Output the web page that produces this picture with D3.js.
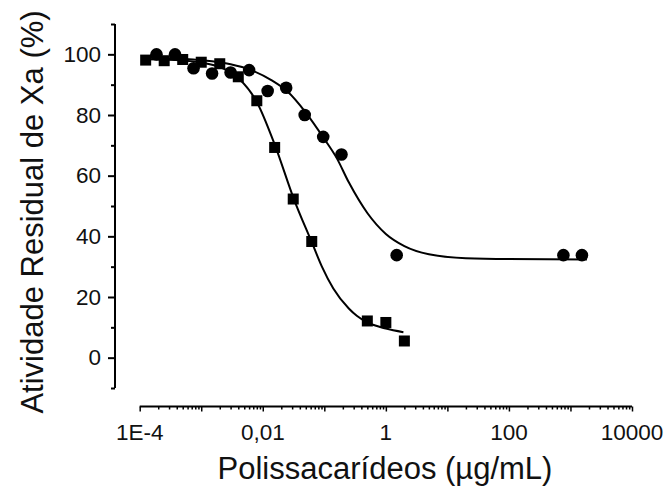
<!DOCTYPE html>
<html>
<head>
<meta charset="utf-8">
<script src="https://cdn.jsdelivr.net/npm/d3@7"></script>
<style>
  html, body { margin: 0; padding: 0; background: #fff; }
  svg { display: block; font-family: "Liberation Sans", Arial, sans-serif; }
</style>
</head>
<body>
<svg id="chart" width="670" height="491"></svg>
<script>
// ---- data ----
const squareConc = [1.25e-4, 2.5e-4, 5e-4, 1e-3, 2e-3, 4e-3, 8e-3, 0.0156, 0.03125, 0.0625, 0.5, 1, 2];
const squareVal  = [98.1, 97.9, 98.3, 97.4, 96.9, 92.6, 84.7, 69.3, 52.3, 38.3, 12.1, 11.6, 5.5];

const circleConc = [1.875e-4, 3.75e-4, 7.5e-4, 1.5e-3, 3e-3, 6e-3, 0.012, 0.024, 0.048, 0.096, 0.19, 1.5, 768, 1536];
const circleVal  = [100, 100, 95.4, 93.7, 94.0, 94.8, 87.9, 89.0, 80.0, 72.8, 67.0, 33.8, 33.8, 33.8];

// fitted curves, points
const squareFitConc = [1.25e-4, 5e-4, 1e-3, 2e-3, 4e-3, 8e-3, 0.0158, 0.032, 0.063, 0.091, 0.14, 0.25, 0.337, 0.5, 1, 1.93];
const squareFitVal  = [98.4, 98.0, 97.3, 95.8, 92.2, 84.3, 70.0, 52.3, 37.9, 30.1, 22.8, 16.2, 13.8, 11.6, 9.6, 8.4];

const circleFitConc = [1.25e-4, 5e-4, 1.5e-3, 3e-3, 6.3e-3, 0.014, 0.025, 0.05, 0.1, 0.16, 0.25, 0.5, 1, 2, 5, 20, 100, 1850];
const circleFitVal  = [98.9, 98.5, 97.7, 96.7, 94.9, 91.4, 87.8, 80.8, 72.1, 65.7, 57.8, 47.7, 40.8, 36.8, 34.1, 32.8, 32.5, 32.4];

const xMajorTicks = [1e-4, 1e-3, 1e-2, 1e-1, 1, 10, 100, 1000, 10000];
const xLabelTicks = [1e-4, 1e-2, 1, 100, 10000];
const xTickLabels = ["1E-4", "0,01", "1", "100", "10000"];
const yMajorTicks = [0, 20, 40, 60, 80, 100];
const yMinorTicks = [-10, 10, 30, 50, 70, 90, 110];

const xTitle = "Polissacarídeos (µg/mL)";
const yTitle = "Atividade Residual de Xa (%)";

// ---- scales ----
const svg = d3.select("#chart");
const x = d3.scaleLog().domain([1e-4, 1e4]).range([139.7, 632]);
const y = d3.scaleLinear().domain([-10, 110]).range([388, 24]);
const xAxisY = 406.5;
const yAxisX = 115;

// ---- y axis ----
const gy = svg.append("g").attr("transform", `translate(${yAxisX},0)`);
gy.call(d3.axisLeft(y).tickValues(yMajorTicks).tickSize(7).tickPadding(7).tickFormat(d3.format("d")));
gy.append("g").call(d3.axisLeft(y).tickValues(yMinorTicks).tickSize(4).tickFormat(""))
  .select(".domain").remove();
gy.selectAll(".domain").attr("stroke", "#000").attr("stroke-width", 2)
  .attr("d", `M0,${y(110)}V${y(-10)}`);
gy.selectAll(".tick line").attr("stroke", "#000").attr("stroke-width", 2);
gy.selectAll(".tick text").attr("font-size", 22.5).attr("fill", "#111").attr("font-family", "Liberation Sans, Arial, sans-serif");

// ---- x axis ----
const gx = svg.append("g").attr("transform", `translate(0,${xAxisY})`);
const minor = [];
for (let e = -4; e < 4; e++) for (let k = 2; k <= 9; k++) minor.push(k * Math.pow(10, e));
gx.append("g").call(d3.axisBottom(x).tickValues(minor).tickSize(3).tickFormat(""))
  .call(g => g.select(".domain").remove());
gx.append("g").call(d3.axisBottom(x).tickValues(xMajorTicks).tickSize(5).tickFormat(""))
  .call(g => g.select(".domain").attr("stroke-width", 2).attr("d", `M${x(1e-4)},0H${x(1e4)}`));
gx.selectAll(".tick line").attr("stroke", "#000").attr("stroke-width", 1.5);
gx.selectAll(".domain").attr("stroke", "#000");
gx.append("g").selectAll("text").data(xLabelTicks).join("text")
  .attr("x", d => x(d)).attr("y", 33.5)
  .attr("text-anchor", "middle").attr("font-size", 22.5).attr("fill", "#111")
  .text((d, i) => xTickLabels[i]);

// ---- titles ----
svg.append("text").attr("x", 385).attr("y", 479).attr("text-anchor", "middle")
  .attr("font-size", 31).attr("fill", "#111").text(xTitle);
svg.append("text").attr("transform", "translate(43,212) rotate(-90)").attr("text-anchor", "middle")
  .attr("font-size", 31).attr("fill", "#111").text(yTitle);

// ---- fitted curves ----
const line = d3.line().x(d => x(d[0])).y(d => y(d[1])).curve(d3.curveMonotoneX);
svg.append("path").datum(squareFitConc.map((c, i) => [c, squareFitVal[i]]))
  .attr("d", line).attr("fill", "none").attr("stroke", "#000").attr("stroke-width", 2);
svg.append("path").datum(circleFitConc.map((c, i) => [c, circleFitVal[i]]))
  .attr("d", line).attr("fill", "none").attr("stroke", "#000").attr("stroke-width", 2);

// ---- markers ----
const sq = 11;
svg.append("g").selectAll("rect").data(squareConc.map((c, i) => [c, squareVal[i]])).join("rect")
  .attr("x", d => x(d[0]) - sq / 2).attr("y", d => y(d[1]) - sq / 2)
  .attr("width", sq).attr("height", sq).attr("fill", "#000");
svg.append("g").selectAll("circle").data(circleConc.map((c, i) => [c, circleVal[i]])).join("circle")
  .attr("cx", d => x(d[0])).attr("cy", d => y(d[1])).attr("r", 6.3).attr("fill", "#000");
</script>
</body>
</html>
